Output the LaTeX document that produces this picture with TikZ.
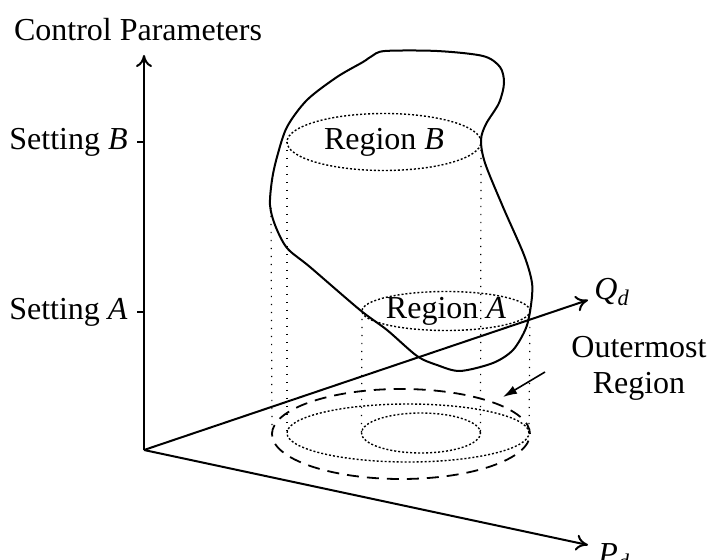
\documentclass[tikz,border=0pt]{standalone}
\usepackage{fontspec}
\setmainfont{Liberation Serif}
\usetikzlibrary{positioning,arrows.meta,calc,shapes.geometric}
\newcommand{\dsubscript}{\textsubscript{\textit{d}}}
\tikzset{
    axis/.style={-{To[length=6pt,width=8pt]}, line width=1pt},
    tickmark/.style={line width=1pt},
    blob/.style={line width=1pt},
    slice/.style={ellipse, draw, line width=0.7pt, dash pattern=on 1pt off 1pt,
                  inner sep=0pt, outer sep=0pt},
    outline/.style={ellipse, draw, line width=0.9pt, dash pattern=on 6pt off 4pt,
                    inner sep=0pt, outer sep=0pt},
    drop/.style={line width=0.6pt, dash pattern=on 0.6pt off 3.4pt},
    pointer/.style={-{Latex[length=7pt,width=4.5pt]}, line width=0.8pt},
    axislabel/.style={inner sep=2pt}
}

\begin{document}
\begin{tikzpicture}[x=0.5pt, y=-0.5pt, font=\fontsize{16}{18}\selectfont]
  \useasboundingbox (0,0) rectangle (711,560);

  % Axes
  \coordinate (O) at (144,450);
  \coordinate (ytip) at (144,55);
  \coordinate (qtip) at (588,300);
  \coordinate (ptip) at (588,545);
  \draw[axis] (O) -- (ytip);
  \draw[axis] (O) -- (qtip);
  \draw[axis] (O) -- (ptip);
  \node[anchor=base] (cp) at (138,41) {Control Parameters};
  \node[axislabel, anchor=base west] (qd) at ([xshift=1pt]qtip) {\textit{Q}\dsubscript};
  \node[axislabel, anchor=north west] (pd) at ([xshift=3pt,yshift=3pt]ptip) {\textit{P}\dsubscript};

  % Settings on the vertical axis
  \coordinate (tB) at (144,142);
  \coordinate (tA) at (144,312);
  \draw[tickmark] (tB) -- ++(-7,0) coordinate (tBend);
  \draw[tickmark] (tA) -- ++(-7,0) coordinate (tAend);
  \node[axislabel, left=2.5pt of tBend] (setB) {Setting \textit{B}};
  \node[axislabel, left=2.5pt of tAend] (setA) {Setting \textit{A}};

  % Region slices
  \node[slice, minimum width=97pt, minimum height=28.5pt] (rB) at (384,142) {};
  \node[slice, minimum width=84pt, minimum height=19.5pt] (rA) at (446,311) {};
  \node (rBtext) at (rB) {Region \textit{B}};
  \node (rAtext) at (rA) {Region \textit{A}};

  % Projections on the ground plane
  \node[outline, minimum width=129pt, minimum height=45pt] (outer) at (401,434) {};
  \node[slice, minimum width=121pt, minimum height=29pt] (mid) at (408,433) {};
  \node[slice, minimum width=59.5pt, minimum height=20pt] (inner) at (421,433) {};

  \coordinate (bulge) at (271,208);
  \draw[drop] (bulge) -- (outer.west);
  \draw[drop] (rB.west) -- (mid.west);
  \draw[drop] (rB.east) -- (inner.east);
  \draw[drop] (rA.west) -- (inner.west);
  \draw[drop] (rA.east) -- (mid.east);

  % Operating region outline
  \draw[blob] plot[smooth cycle] coordinates {
    (363,62) (372,56) (385,51) (437,51) (483,56) (500,67) (504,83) (499,103)
    (486,124) (481,140) (485,163) (503,207) (524,255) (532,283) (531,305)
    (526,328) (513,350) (493,363) (460,371) (437,365) (417,356) (387,330)
    (360,310) (310,267) (287,248) (275,225) (270,205) (272,180) (277,157)
    (287,127) (307,100) (337,77)};

  % Outermost label
  \node[align=center] (outerlabel) at (639,368) {Outermost\\Region};
  \coordinate (ptail) at (545,372);
  \coordinate (phead) at (503,397);
  \draw[pointer] (ptail) -- (phead);
\end{tikzpicture}
\end{document}
